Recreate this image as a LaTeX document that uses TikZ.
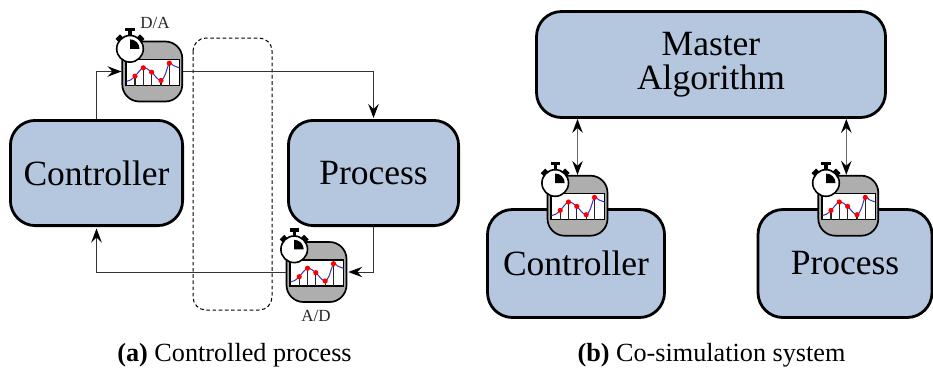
\documentclass[tikz,border=0pt]{standalone}
\usepackage{fontspec}
\setmainfont{Liberation Serif}
\usetikzlibrary{arrows.meta,calc}
\definecolor{boxblue}{HTML}{B4C7DE}
\definecolor{icongrey}{HTML}{AEAEAE}
\definecolor{curveblue}{HTML}{3A2FC0}
\tikzset{
  x=1pt,y=-1pt,
  tipshape/.tip={Stealth[length=14pt,width=10.5pt,inset=5pt,black]},
  block/.style={draw=black,line width=2.8pt,fill=boxblue,rounded corners=25pt,inner sep=0pt,align=center,font=\fontsize{35.5}{33.6}\selectfont},
  iconbox/.style={draw=black,line width=1.7pt,fill=icongrey,rounded corners=17pt,minimum width=60pt,minimum height=60pt,inner sep=0pt},
  conn/.style={draw=black!80,line width=1pt,-tipshape},
  biconn/.style={draw=black!60,line width=1.4pt,tipshape-tipshape},
  small/.style={font=\fontsize{17}{19}\selectfont,inner sep=0pt,text=black!85},
  caption/.style={font=\fontsize{26.2}{28}\selectfont,inner sep=0pt,anchor=base},
}
\newcommand{\clockicon}[3]{%
  \node[iconbox] (#1) at (#2,#3) {};
  \begin{scope}[shift={(#1.center)}]
    \draw[black,line width=1.5pt,fill=white] (-26.5,-12) rectangle (27,14);
    \foreach \px/\py in {-17.3/4.7,-9/-3.7,-0.7/0.7,8.7/9,17/-8.3}
      \draw[black!85,line width=1.1pt] (\px,\py) -- (\px,14);
    \draw[curveblue,line width=1pt] plot[smooth,tension=0.6] coordinates {(-26,9.7) (-22,8.6) (-17.3,4.7) (-9,-3.7) (-0.7,0.7) (4,6) (8.7,9) (12.5,4) (17,-8.3) (21,-6) (27,-3.7)};
    \foreach \px/\py in {-17.3/4.7,-9/-3.7,-0.7/0.7,8.7/9,17/-8.3}
      \fill[red] (\px,\py) circle (2.6);
    \fill[black] (-27,-44) rectangle (-17.6,-40.4);
    \fill[black] (-24,-41) rectangle (-20.6,-35);
    \fill[black,rotate around={-45:(-22.3,-22.7)}] (-25.5,-40) rectangle (-19.1,-34.5);
    \fill[black,rotate around={45:(-22.3,-22.7)}] (-25.5,-40) rectangle (-19.1,-34.5);
    \draw[black,line width=1.6pt,fill=white] (-22.3,-22.7) circle (13.3);
    \fill[black] (-22.3,-22.7) -- (-22.3,-32.2) arc[start angle=-90,end angle=0,radius=9.5] -- cycle;
  \end{scope}}
\begin{document}
\begin{tikzpicture}
\useasboundingbox (0,0) rectangle (933,368);
\draw[black,line width=1pt,dash pattern=on 3.6pt off 2.6pt,rounded corners=13pt] (193,38) rectangle (272,310);
\node[block,minimum width=172.2pt,minimum height=105.2pt] (ctrlA) at (96.5,173) {Controller};
\node[block,minimum width=170.2pt,minimum height=105.2pt] (procA) at (373.5,173) {Process};
\node[block,minimum width=349pt,minimum height=106pt] (master) at (711,64.5) {Master\\Algorithm};
\node[block,minimum width=177pt,minimum height=108pt] (ctrlB) at (576,263.5) {Controller};
\node[block,minimum width=174pt,minimum height=108pt] (procB) at (845,263.5) {Process};
\clockicon{da}{152.3}{71.5}
\clockicon{ad}{316.5}{272}
\clockicon{sa}{577.5}{205.7}
\clockicon{sb}{848.3}{205.7}
\node[small] (lda) at (155,23) {D/A};
\node[small] (lad) at (316,316) {A/D};
\draw[conn] (ctrlA.north) |- (da.west);
\draw[conn,shorten >=1pt] (da.east) -| (procA.north);
\draw[conn,shorten >=1pt] (procA.south) |- (ad.east);
\draw[conn,shorten >=1.5pt] (ad.west) -| (ctrlA.south);
\draw[biconn] (sa.north) -- (sa.north |- master.south);
\draw[biconn] ([xshift=-2pt]sb.north) -- ([xshift=-2pt]sb.north |- master.south);
\node[caption] (capa) at (234.5,361.7) {\textbf{(a)} Controlled process};
\node[caption] (capb) at (711.5,361.7) {\textbf{(b)} Co-simulation system};
\end{tikzpicture}
\end{document}
